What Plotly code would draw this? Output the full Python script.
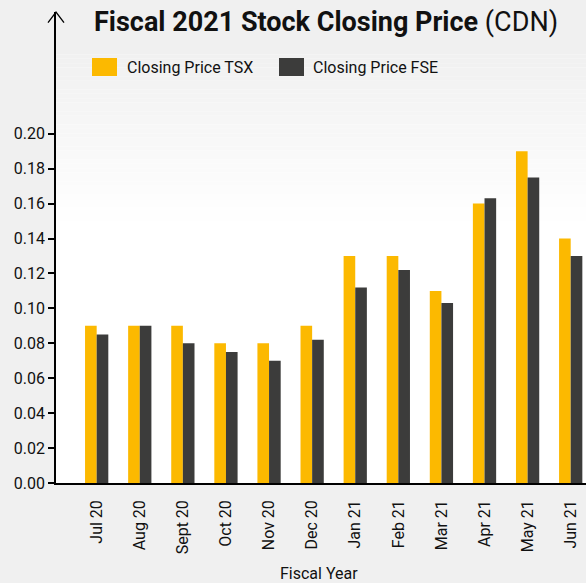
import plotly.graph_objects as go

months = ["Jul 20", "Aug 20", "Sept 20", "Oct 20", "Nov 20", "Dec 20",
          "Jan 21", "Feb 21", "Mar 21", "Apr 21", "May 21", "Jun 21"]
tsx = [0.09, 0.09, 0.09, 0.08, 0.08, 0.09, 0.13, 0.13, 0.11, 0.16, 0.19, 0.14]
fse = [0.085, 0.09, 0.08, 0.075, 0.07, 0.082, 0.112, 0.122, 0.103, 0.163, 0.175, 0.13]
y_ticks = [0.00, 0.02, 0.04, 0.06, 0.08, 0.10, 0.12, 0.14, 0.16, 0.18, 0.20]

TSX_COLOR = "#fcb900"
FSE_COLOR = "#3c3c3b"
PAPER = "#f0f0f0"
FONT = "Roboto"

W, H = 586, 583
ML, MR, MT, MB = 56, 0, 12, 100
PW, PH = W - ML - MR, H - MT - MB

def px(xp):
    return (xp - ML) / PW

def py(yp):
    return (H - MB - yp) / PH

fig = go.Figure()
fig.add_trace(go.Bar(x=months, y=tsx, name="Closing Price TSX",
                     marker=dict(color=TSX_COLOR, line=dict(width=0))))
fig.add_trace(go.Bar(x=months, y=fse, name="Closing Price FSE",
                     marker=dict(color=FSE_COLOR, line=dict(width=0))))

shapes = []
# gradient background at top of plot area
n = 40
y_start, y_end = 50, 225
def lerp(a, b, t):
    return int(round(a + (b - a) * t))
shapes.append(dict(type="rect", xref="paper", yref="paper", x0=0, x1=1,
                   y0=py(y_start), y1=1, fillcolor=PAPER, line=dict(width=0),
                   layer="below"))
for i in range(n):
    ya = y_start + (y_end - y_start) * i / n
    yb = y_start + (y_end - y_start) * (i + 1) / n
    c = lerp(0xf0, 0xff, (i + 0.5) / n)
    shapes.append(dict(type="rect", xref="paper", yref="paper", x0=0, x1=1,
                       y0=py(yb), y1=py(ya), fillcolor=f"rgb({c},{c},{c})",
                       line=dict(width=0), layer="below"))
# arrow head on y axis
shapes.append(dict(type="path", xref="paper", yref="paper",
                   path=f"M {-8/PW},{py(22.7)} L 0,1 L {8/PW},{py(22.7)}",
                   line=dict(color="#000000", width=1.3)))
# legend squares
shapes.append(dict(type="rect", xref="paper", yref="paper",
                   x0=px(92), x1=px(117), y0=py(76), y1=py(58),
                   fillcolor=TSX_COLOR, line=dict(width=0)))
shapes.append(dict(type="rect", xref="paper", yref="paper",
                   x0=px(279), x1=px(304), y0=py(76), y1=py(58),
                   fillcolor=FSE_COLOR, line=dict(width=0)))

annotations = [
    dict(text="<b>Fiscal 2021 Stock Closing Price</b> (CDN)", xref="paper", yref="paper",
         x=px(92), y=py(22), xanchor="left", yanchor="middle", showarrow=False,
         font=dict(family=FONT, size=27, color="#111111")),
    dict(text="Closing Price TSX", xref="paper", yref="paper",
         x=px(125), y=py(68), xanchor="left", yanchor="middle", showarrow=False,
         font=dict(family=FONT, size=16, color="#111111")),
    dict(text="Closing Price FSE", xref="paper", yref="paper",
         x=px(311), y=py(68), xanchor="left", yanchor="middle", showarrow=False,
         font=dict(family=FONT, size=16, color="#111111")),
    dict(text="Fiscal Year", xref="paper", yref="paper",
         x=px(319), y=py(573), xanchor="center", yanchor="middle", showarrow=False,
         font=dict(family=FONT, size=16, color="#111111")),
]

fig.update_layout(
    width=W, height=H,
    margin=dict(l=ML, r=MR, t=MT, b=MB, pad=0),
    paper_bgcolor=PAPER, plot_bgcolor="#ffffff",
    barmode="group", bargap=0.46, bargroupgap=0,
    showlegend=False,
    shapes=shapes, annotations=annotations,
    font=dict(family=FONT, size=16, color="#111111"),
    xaxis=dict(type="category", range=[-0.944, 11.355], showline=True,
               linecolor="#000000", linewidth=1.5, showgrid=False, zeroline=False,
               ticks="outside", ticklen=9, tickcolor="rgba(0,0,0,0)",
               tickangle=-90, tickfont=dict(family=FONT, size=16, color="#111111")),
    yaxis=dict(range=[0, 0.2697], showline=True,
               linecolor="#000000", linewidth=1.5, showgrid=False, zeroline=False,
               ticks="outside", ticklen=6, tickwidth=1.5, tickcolor="#000000",
               tickvals=y_ticks, tickformat=".2f",
               tickfont=dict(family=FONT, size=16, color="#111111")),
)

fig.write_html("out.html", config={"displayModeBar": False},
               post_script="document.body.style.margin='0';document.body.style.overflow='hidden';")
